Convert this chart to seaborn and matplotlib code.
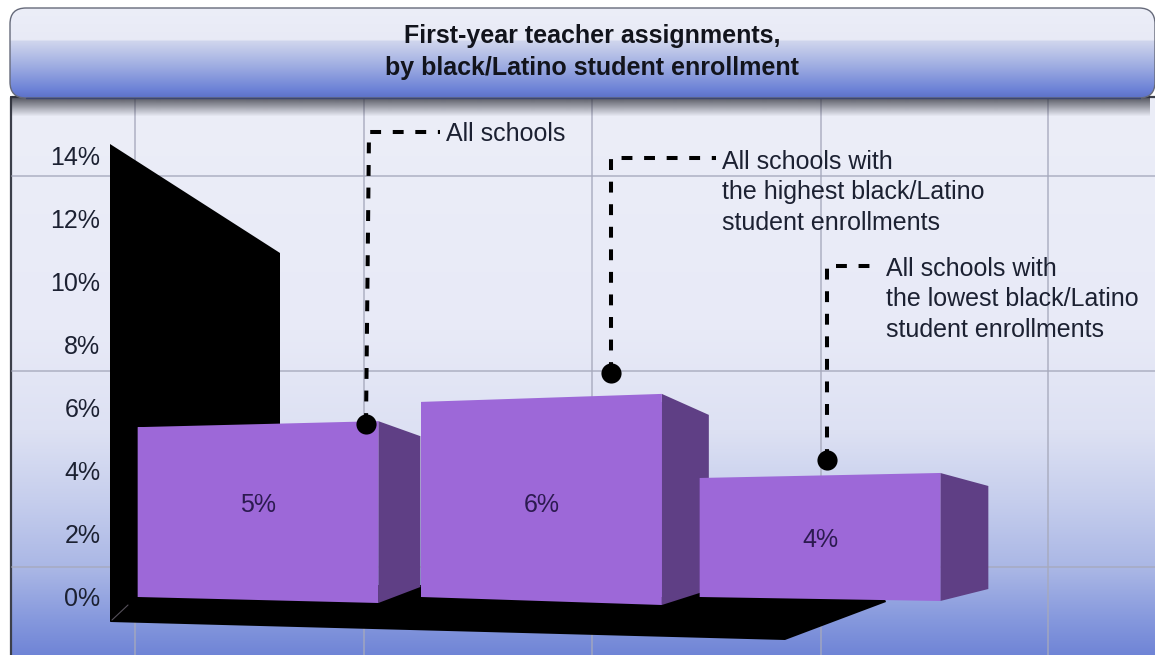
import numpy as np
import pandas as pd
import seaborn as sns
import matplotlib.pyplot as plt
from matplotlib.colors import to_rgb
from matplotlib.patches import FancyBboxPatch, Polygon

# Chart values
groups = ['All schools', 'Highest black/Latino', 'Lowest black/Latino']
heights = [5.38, 6.18, 3.77]
bar_labels = ['5%', '6%', '4%']
y_ticks = [0, 2, 4, 6, 8, 10, 12, 14]
title_lines = ['First-year teacher assignments,', 'by black/Latino student enrollment']
callouts = [
    ['All schools'],
    ['All schools with', 'the highest black/Latino', 'student enrollments'],
    ['All schools with', 'the lowest black/Latino', 'student enrollments'],
]

W, H = 1155, 655
PURPLE = '#9d68d8'
PURPLE_SIDE = '#5f3f85'
TEXT = '#1c2132'
GRID = '#a6a9bc'

sns.set_theme(style='white')
plt.rcParams['font.family'] = ['Liberation Sans', 'DejaVu Sans']


def gradient(ax, extent, stops, clip=None, alpha=None):
    # vertical colour ramp, stops are (pixel y, colour)
    ys = np.arange(extent[2], extent[3])
    pos = [s[0] for s in stops]
    rgb = np.array([to_rgb(s[1]) for s in stops])
    img = np.stack([np.interp(ys, pos, rgb[:, i]) for i in range(3)], axis=1)
    if alpha is not None:
        a = np.interp(ys, pos, alpha)
        img = np.column_stack([img, a])
    im = ax.imshow(img[:, None, :], extent=(extent[0], extent[1], extent[3], extent[2]),
                   aspect='auto', interpolation='bilinear', zorder=1)
    if clip is not None:
        im.set_clip_path(clip)
    return im


fig = plt.figure(figsize=(W / 100, H / 100), dpi=100, facecolor='white')

# Background layer works in image pixels
bg = fig.add_axes([0, 0, 1, 1], zorder=0)
bg.set_xlim(0, W)
bg.set_ylim(H, 0)
bg.axis('off')

panel = FancyBboxPatch((11, 97), W + 60, H, boxstyle='round,pad=0,rounding_size=1',
                       fc='none', ec='#3c3f4a', lw=1.6, zorder=2)
bg.add_patch(panel)
gradient(bg, (11, W, 97, H), [(98, '#eceef8'), (330, '#e8eaf7'), (430, '#dde1f3'),
                              (500, '#c6ceed'), (570, '#a9b6e5'), (620, '#8598dd'),
                              (655, '#6f84d6')], clip=panel)

for x in [135, 364, 592, 821, 1048]:
    bg.plot([x, x], [98, H], color=GRID, lw=1.3, alpha=0.75, zorder=3)
for y in [176, 371, 567]:
    bg.plot([12, W], [y, y], color=GRID, lw=1.3, alpha=0.75, zorder=3)

# Shadow under the header band
gradient(bg, (10, 1150, 96, 116), [(96, '#30323c'), (116, '#30323c')], alpha=[0.85, 0.0]).set_zorder(4)

header = FancyBboxPatch((10, 8), W - 10, 90, boxstyle='round,pad=0,rounding_size=16',
                        fc='none', ec='#666a7a', lw=1.0, zorder=6)
bg.add_patch(header)
gradient(bg, (10, W, 8, 98), [(8, '#eceef8'), (39, '#e8eaf6'), (41, '#cfd5ed'),
                              (65, '#a0aee2'), (90, '#6a80d6'), (98, '#5b70c6')],
         clip=header).set_zorder(5)
bg.plot([26, 1140], [98, 98], color='#3d4670', lw=1.0, zorder=6.5)

for i, line in enumerate(title_lines):
    bg.text(592, 43 + 32 * i, line, ha='center', va='baseline', fontsize=18,
            fontweight='bold', color='#12141c', zorder=7)

# Black wall and floor of the 3-D box
bg.add_patch(Polygon([(110, 144), (280, 253), (280, 600), (137, 598), (110, 622)],
                     fc='black', ec='none', zorder=4))
bg.add_patch(Polygon([(110, 622), (137, 585), (880, 585), (886, 602), (785, 640)],
                     fc='black', ec='none', zorder=4))
bg.plot([112, 128], [620, 605], color='#55505a', lw=0.8, zorder=4.5)

bg.set_xlim(0, W)
bg.set_ylim(H, 0)

# Value axes sit over the background: 0% at y=597, 31.57 px per percent
ax = fig.add_axes([110 / W, 0, (W - 110) / W, (H - 100) / H], zorder=1)
ax.patch.set_alpha(0)

df = pd.DataFrame({'group': groups, 'value': heights})
sns.barplot(data=df, x='group', y='value', color=PURPLE, saturation=1, width=0.855,
            linewidth=0, ax=ax, zorder=2)

ax.set_xlim((110 - 258) / 281.5, (W - 258) / 281.5)
ax.set_ylim(-58 / 31.57, 497 / 31.57)
ax.set_xlabel('')
ax.set_ylabel('')
ax.set_xticks([])
ax.set_yticks(y_ticks)
ax.set_yticklabels([f'{t}%' for t in y_ticks], fontsize=18, color=TEXT)
ax.tick_params(axis='y', length=0, pad=7)
sns.despine(ax=ax, left=True, bottom=True)


def to_px(x, y):
    return bg.transData.inverted().transform(ax.transData.transform((x, y)))


# Perspective faces built from each bar's own geometry
nudges = [0, 2, -1]
rises = [6, 8, 5]
drops = [6, 8, 4]
depths = [42, 47, 48]
side_top = [15, 21, 13]
side_bottom = [16, 15, 12]
label_y = [505, 505, 540]

for i, bar in enumerate(ax.patches):
    bar.set_x(bar.get_x() + nudges[i] / 281.5)
    x0, top_l = to_px(bar.get_x(), bar.get_height())
    x1, base = to_px(bar.get_x() + bar.get_width(), 0)
    z = 3 + i
    bar.set_zorder(z)
    top_r = top_l - rises[i]
    bot_r = base + drops[i]
    front = Polygon([(x0, top_l), (x1, top_r), (x1, bot_r), (x0, base)], fc=PURPLE, ec='none',
                    transform=bg.transData, zorder=z)
    side = Polygon([(x1, top_r), (x1 + depths[i], top_r + side_top[i]),
                    (x1 + depths[i], bot_r - side_bottom[i]), (x1, bot_r)], fc=PURPLE_SIDE, ec='none',
                   transform=bg.transData, zorder=z)
    ax.add_patch(side)
    ax.add_patch(front)
    ax.text((x0 + x1) / 2, label_y[i], bar_labels[i], transform=bg.transData, ha='center', va='center',
            fontsize=18, color='#2c1a50', zorder=z + 0.5)

# Dashed leaders with dots
leaders = [
    [(366, 424), (369, 132), (440, 132)],
    [(611, 373), (611, 158), (716, 158)],
    [(827, 460), (827, 266), (880, 266)],
]
text_x = [446, 722, 886]
text_y = [141, 169, 276]
for pts, lines, tx, ty in zip(leaders, callouts, text_x, text_y):
    xs, ys = zip(*pts)
    ax.plot(xs, ys, color='black', lw=2.9, dashes=(2.7, 2.9), transform=bg.transData, zorder=8)
    ax.plot(xs[0], ys[0], 'o', color='black', ms=14.5, mew=0, transform=bg.transData, zorder=9)
    for j, line in enumerate(lines):
        ax.text(tx, ty + 30.5 * j, line, transform=bg.transData, ha='left', va='baseline',
                fontsize=18, color=TEXT, zorder=10)

ax.set_xlim((110 - 258) / 281.5, (W - 258) / 281.5)
ax.set_ylim(-58 / 31.57, 497 / 31.57)

fig.savefig('out.png', dpi=100)
